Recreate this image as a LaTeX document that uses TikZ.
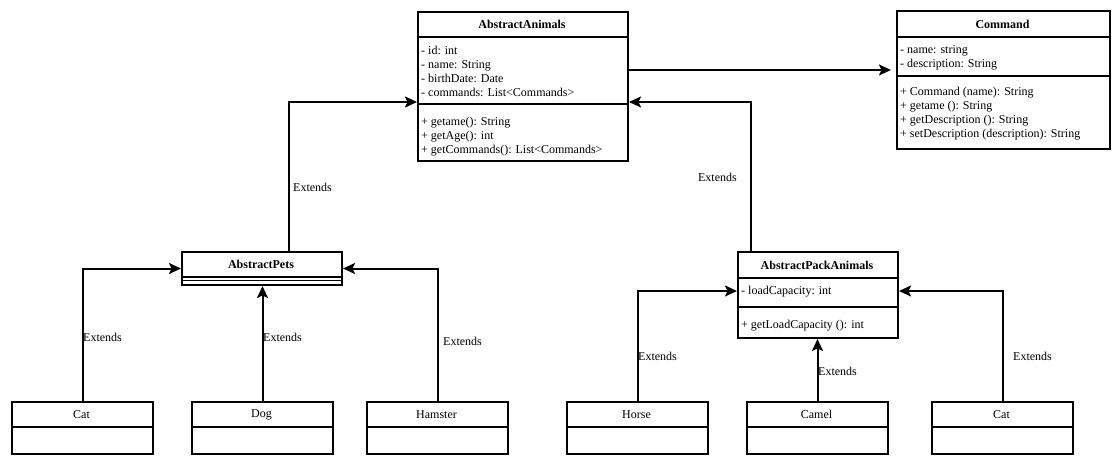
\documentclass[tikz,border=0pt]{standalone}
\usepackage{fontspec}
\setmainfont{Liberation Serif}
\newfontfamily\lserif{Liberation Serif}
\usetikzlibrary{arrows.meta}
\tikzset{
  cls/.style={draw, line width=2pt, inner sep=0pt, anchor=north west},
  hdr/.style={line width=1.6pt},
  sepline/.style={line width=1.2pt},
  conn/.style={line width=2pt, -{Stealth[length=12pt,width=11pt,inset=2.5pt]}},
  ttl/.style={font=\lserif\fontsize{12}{14}\selectfont\bfseries, inner sep=0pt},
  nm/.style={font=\lserif\fontsize{12}{14}\selectfont, inner sep=0pt},
  txt/.style={font=\lserif\fontsize{12}{14}\selectfont, align=left, inner sep=0pt, anchor=west},
  lbl/.style={font=\lserif\fontsize{12}{14}\selectfont, inner sep=0pt, anchor=west},
}
\begin{document}
\begin{tikzpicture}[x=1pt,y=-1pt]
\useasboundingbox (0,0) rectangle (1117,464);

% AbstractAnimals
\node[cls, minimum width=210pt, minimum height=149pt] (aa) at (417,11) {};
\node[ttl] (aat) at (522,24.5) {AbstractAnimals};
\draw[hdr] (aa.west |- 0,37) -- (aa.east |- 0,37);
\draw[sepline] (aa.west |- 0,104) -- (aa.east |- 0,104);
\node[txt] (aaa) at (421,71.5) {- id: int\\- name: String\\- birthDate: Date\\- commands: List<Commands>};
\node[txt] (aam) at (421,137) {+ getame(): String\\+ getAge(): int\\+ getCommands(): List<Commands>};

% Command
\node[cls, minimum width=213pt, minimum height=138pt] (cmd) at (896,10) {};
\node[ttl] (cmdt) at (1002.5,24.5) {Command};
\draw[hdr] (cmd.west |- 0,37) -- (cmd.east |- 0,37);
\draw[sepline] (cmd.west |- 0,76) -- (cmd.east |- 0,76);
\node[txt] (cmda) at (900,58) {- name: string\\- description: String};
\node[txt] (cmdm) at (900,114) {+ Command (name): String\\+ getame (): String\\+ getDescription (): String\\+ setDescription (description): String};

% AbstractPets
\node[cls, minimum width=160pt, minimum height=33pt] (pets) at (181,251) {};
\node[ttl] (petst) at (261,264.5) {AbstractPets};
\draw[hdr] (pets.west |- 0,277) -- (pets.east |- 0,277);
\draw[sepline] (pets.west |- 0,280.5) -- (pets.east |- 0,280.5);

% AbstractPackAnimals
\node[cls, minimum width=160pt, minimum height=86pt] (pack) at (737,251) {};
\node[ttl] (packt) at (817,265) {AbstractPackAnimals};
\draw[hdr] (pack.west |- 0,278) -- (pack.east |- 0,278);
\draw[sepline] (pack.west |- 0,307) -- (pack.east |- 0,307);
\node[txt] (packa) at (741,292) {- loadCapacity: int};
\node[txt] (packm) at (741,325.5) {+ getLoadCapacity (): int};

% leaf classes
\foreach \n/\x/\t in {cat1/11/Cat, dog/191/Dog, ham/366/Hamster, horse/566/Horse, camel/746/Camel, cat2/931/Cat}{
  \node[cls, minimum width=141pt, minimum height=52pt] (\n) at (\x,401) {};
  \node[nm] (\n t) at (\x+70.5,414.5) {\t};
  \draw[hdr] (\n.west |- 0,427) -- (\n.east |- 0,427);
}

% connectors
\draw[conn, shorten >=5pt] ([yshift=16.5pt]aa.east) -- ([yshift=16.5pt]aa.east -| cmd.west);
\draw[conn] ([xshift=27pt]pets.north) |- ([yshift=-15.5pt]aa.west);
\draw[conn] ([xshift=-67pt]pack.north) |- ([yshift=-15.5pt]aa.east);
\draw[conn] (cat1.north) |- (pets.west);
\draw[conn] (dog.north) -- (dog.north |- pets.south);
\draw[conn] (ham.north) |- (pets.east);
\draw[conn] (horse.north) |- ([yshift=4pt]pack.west);
\draw[conn] (camel.north) -- (camel.north |- pack.south);
\draw[conn] (cat2.north) |- ([yshift=4pt]pack.east);

% labels
\node[lbl] (l1) at (293,187) {Extends};
\node[lbl, anchor=east] (l2) at (737,177) {Extends};
\node[lbl] (l3) at (83,337) {Extends};
\node[lbl] (l4) at (263,337) {Extends};
\node[lbl] (l5) at (443,341) {Extends};
\node[lbl] (l6) at (638,356) {Extends};
\node[lbl] (l7) at (818,371) {Extends};
\node[lbl] (l8) at (1013,356) {Extends};
\end{tikzpicture}
\end{document}
